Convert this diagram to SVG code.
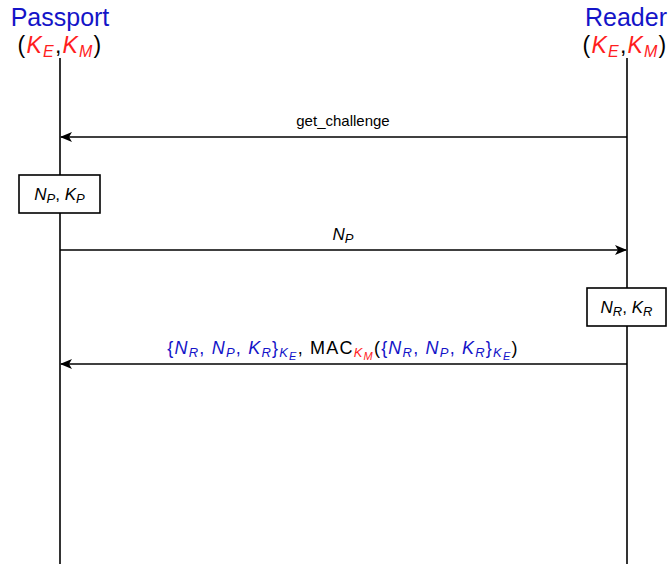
<svg xmlns="http://www.w3.org/2000/svg" width="670" height="564" viewBox="0 0 670 564">
<style>
text{font-family:"Liberation Sans","DejaVu Sans",sans-serif;}
.title{font-size:25px;fill:#1414c8;}
.keys{font-size:23px;fill:#000;letter-spacing:1.2px;}
.red{fill:#ff1e1e;font-style:italic;}
.blue{fill:#1414c8;}
.it{font-style:italic;}
.lbl{font-size:15px;fill:#000;}
.math{font-size:17px;}
.long{font-size:18px;letter-spacing:1.2px;}
.life{stroke:#000;stroke-width:1.6;fill:none;}
.msg{stroke:#000;stroke-width:1.6;fill:none;marker-end:url(#ah);}
.box{fill:#fff;stroke:#000;stroke-width:1.6;}
</style>
<defs>
<marker id="ah" viewBox="0 0 12 10" refX="11" refY="5" markerWidth="12" markerHeight="10" markerUnits="userSpaceOnUse" orient="auto">
<path d="M0,0 L12,5 L0,10 L3,5 Z" fill="#000"/>
</marker>
</defs>

<g id="passport">
<text class="title" x="60" y="26" text-anchor="middle">Passport</text>
<text class="keys" x="60" y="53" text-anchor="middle">(<tspan class="red">K</tspan><tspan class="red" font-size="16" dy="4">E</tspan><tspan dy="-4">,</tspan><tspan class="red">K</tspan><tspan class="red" font-size="16" dy="4">M</tspan><tspan dy="-4">)</tspan></text>
<line class="life" x1="60" y1="58" x2="60" y2="564"/>
</g>

<g id="reader">
<text class="title" x="626" y="26" text-anchor="middle">Reader</text>
<text class="keys" x="625" y="53" text-anchor="middle">(<tspan class="red">K</tspan><tspan class="red" font-size="16" dy="4">E</tspan><tspan dy="-4">,</tspan><tspan class="red">K</tspan><tspan class="red" font-size="16" dy="4">M</tspan><tspan dy="-4">)</tspan></text>
<line class="life" x1="627" y1="58" x2="627" y2="564"/>
</g>

<g id="box-passport">
<rect class="box" x="19" y="175" width="81" height="38"/>
<text class="math" x="59.5" y="200" text-anchor="middle"><tspan class="it">N</tspan><tspan class="it" font-size="13" dy="3">P</tspan><tspan dy="-3">, </tspan><tspan class="it">K</tspan><tspan class="it" font-size="13" dy="3">P</tspan></text>
</g>

<g id="box-reader">
<rect class="box" x="587" y="288" width="79" height="38"/>
<text class="math" x="626.5" y="313" text-anchor="middle"><tspan class="it">N</tspan><tspan class="it" font-size="13" dy="3">R</tspan><tspan dy="-3">, </tspan><tspan class="it">K</tspan><tspan class="it" font-size="13" dy="3">R</tspan></text>
</g>

<g id="connectors">
<line class="msg" x1="627" y1="137" x2="61" y2="137"/>
<text class="lbl" x="343" y="126" text-anchor="middle">get_challenge</text>

<line class="msg" x1="60" y1="250" x2="626" y2="250"/>
<text class="math" x="343" y="240" text-anchor="middle"><tspan class="it">N</tspan><tspan class="it" font-size="13" dy="3">P</tspan></text>

<line class="msg" x1="627" y1="364" x2="61" y2="364"/>
<text class="long" x="343" y="354" text-anchor="middle"><tspan class="blue">{<tspan class="it">N</tspan><tspan class="it" font-size="13" dy="3">R</tspan><tspan dy="-3">, </tspan><tspan class="it">N</tspan><tspan class="it" font-size="13" dy="3">P</tspan><tspan dy="-3">, </tspan><tspan class="it">K</tspan><tspan class="it" font-size="13" dy="3">R</tspan><tspan dy="-3">}</tspan><tspan class="it" font-size="13" dy="3">K</tspan><tspan class="it" font-size="11" dy="3">E</tspan></tspan><tspan dy="-6">,  MAC</tspan><tspan class="red" font-size="13" dy="3">K</tspan><tspan class="red" font-size="11" dy="3">M</tspan><tspan dy="-6">(</tspan><tspan class="blue">{<tspan class="it">N</tspan><tspan class="it" font-size="13" dy="3">R</tspan><tspan dy="-3">, </tspan><tspan class="it">N</tspan><tspan class="it" font-size="13" dy="3">P</tspan><tspan dy="-3">, </tspan><tspan class="it">K</tspan><tspan class="it" font-size="13" dy="3">R</tspan><tspan dy="-3">}</tspan><tspan class="it" font-size="13" dy="3">K</tspan><tspan class="it" font-size="11" dy="3">E</tspan></tspan><tspan dy="-6">)</tspan></text>
</g>
</svg>
